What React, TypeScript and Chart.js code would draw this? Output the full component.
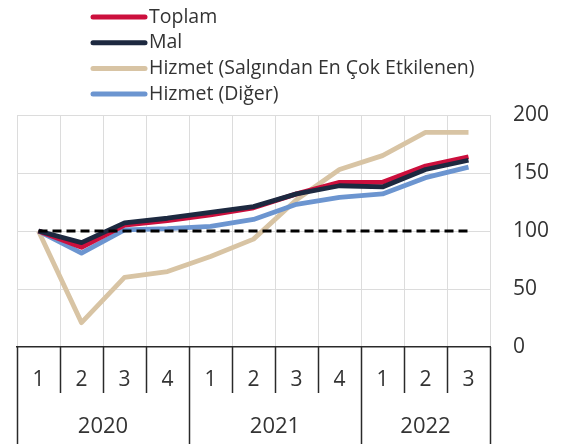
import React, { useEffect, useRef } from "react";
import { Chart, registerables } from "chart.js";

Chart.register(...registerables);

const quarters = ["1", "2", "3", "4", "1", "2", "3", "4", "1", "2", "3"];
const years = ["2020", "2021", "2022"];
const yearQuarterCounts = [4, 4, 3];

const toplam = [100, 86, 105, 109, 114, 120, 132, 142, 142, 156, 164];
const mal = [100, 90, 107, 111, 116, 121, 132, 139, 138, 153, 161];
const salginHizmet = [100, 21, 60, 65, 78, 93, 127, 153, 165, 185, 185];
const digerHizmet = [100, 81, 101, 102, 104, 110, 123, 129, 132, 146, 155];
const referenceLine = [100, 100, 100, 100, 100, 100, 100, 100, 100, 100, 100];

const yTicks = [0, 50, 100, 150, 200];

const RED = "#cc0f3d";
const NAVY = "#1d2940";
const BEIGE = "#d8c4a4";
const BLUE = "#6c95d0";
const TEXT = "#333333";
const FONT_FAMILY = "'Open Sans', 'Noto Sans', sans-serif";

const legendItems = [
  { label: "Toplam", color: RED },
  { label: "Mal", color: NAVY },
  { label: "Hizmet (Salgından En Çok Etkilenen)", color: BEIGE },
  { label: "Hizmet (Diğer)", color: BLUE },
];

const customPlugin = {
  id: "customDecor",
  afterDraw(chart: any) {
    const ctx = chart.ctx;
    const x = chart.scales.x;
    const area = chart.chartArea;
    const n = quarters.length;
    const step = (area.right - area.left) / n;
    ctx.save();
    const yearBounds = new Set<number>();
    let acc = 0;
    yearBounds.add(0);
    for (const c of yearQuarterCounts) {
      acc += c;
      yearBounds.add(acc);
    }
    ctx.strokeStyle = "#2a2a2a";
    ctx.lineWidth = 1.5;
    for (let i = 0; i <= n; i++) {
      const px = Math.round(area.left + i * step) + 0.5;
      ctx.beginPath();
      ctx.moveTo(px, area.bottom);
      ctx.lineTo(px, yearBounds.has(i) ? chart.height : area.bottom + 46);
      ctx.stroke();
    }
    ctx.fillStyle = TEXT;
    ctx.font = `22px ${FONT_FAMILY}`;
    ctx.textAlign = "center";
    ctx.textBaseline = "middle";
    let start = 0;
    years.forEach((yr, k) => {
      const cnt = yearQuarterCounts[k];
      const l = x.getPixelForValue(start) - step / 2;
      const r = x.getPixelForValue(start + cnt - 1) + step / 2;
      ctx.fillText(yr, (l + r) / 2, area.bottom + 80);
      start += cnt;
    });
    ctx.font = `19.5px ${FONT_FAMILY}`;
    ctx.textAlign = "left";
    ctx.lineCap = "round";
    legendItems.forEach((it, i) => {
      const cy = 17 + i * 25.7;
      ctx.strokeStyle = it.color;
      ctx.lineWidth = 5;
      ctx.beginPath();
      ctx.moveTo(93, cy);
      ctx.lineTo(145, cy);
      ctx.stroke();
      ctx.fillStyle = TEXT;
      ctx.fillText(it.label, 149, cy);
    });
    ctx.restore();
  },
};

export default function App() {
  const ref = useRef<HTMLCanvasElement | null>(null);
  useEffect(() => {
    if (!ref.current) return;
    const chart = new Chart(ref.current, {
      type: "line",
      data: {
        labels: quarters,
        datasets: [
          { label: "ref", data: referenceLine, borderColor: "#000", borderWidth: 3, borderDash: [9, 5], order: 0 },
          { label: "Mal", data: mal, borderColor: NAVY, order: 1 },
          { label: "Toplam", data: toplam, borderColor: RED, order: 2 },
          { label: "Hizmet (Diğer)", data: digerHizmet, borderColor: BLUE, order: 3 },
          { label: "Hizmet (Salgından En Çok Etkilenen)", data: salginHizmet, borderColor: BEIGE, order: 4 },
        ],
      },
      options: {
        responsive: false,
        animation: false,
        layout: { padding: { left: 17, top: 115, right: 0, bottom: 0 } },
        plugins: { legend: { display: false }, tooltip: { enabled: false } },
        elements: {
          point: { radius: 0 },
          line: { tension: 0, borderWidth: 4.8, borderJoinStyle: "round", borderCapStyle: "butt" },
        },
        scales: {
          x: {
            offset: true,
            grid: { offset: true, color: "#dcdcdc", lineWidth: 1, drawTicks: false },
            border: { color: "#2a2a2a", width: 1.5 },
            ticks: { color: TEXT, font: { family: FONT_FAMILY, size: 21 }, padding: 20, maxRotation: 0 },
            afterFit: (s: any) => { s.height = 97; },
          },
          y: {
            position: "right",
            min: yTicks[0],
            max: yTicks[yTicks.length - 1],
            afterBuildTicks: (s: any) => { s.ticks = yTicks.map((v) => ({ value: v })); },
            grid: {
              color: (c: any) => (c.tick && c.tick.value === 0 ? "rgba(0,0,0,0)" : "#dcdcdc"),
              drawTicks: false,
            },
            border: { display: false },
            ticks: { color: TEXT, font: { family: FONT_FAMILY, size: 21 }, padding: 23 },
            afterFit: (s: any) => { s.width = 76; },
          },
        },
      },
      plugins: [customPlugin],
    });
    return () => chart.destroy();
  }, []);
  return (
    <div style={{ position: "absolute", left: 0, top: 0, width: 566, height: 444, background: "#fff" }}>
      <canvas ref={ref} width={566} height={444} style={{ display: "block" }} />
    </div>
  );
}
